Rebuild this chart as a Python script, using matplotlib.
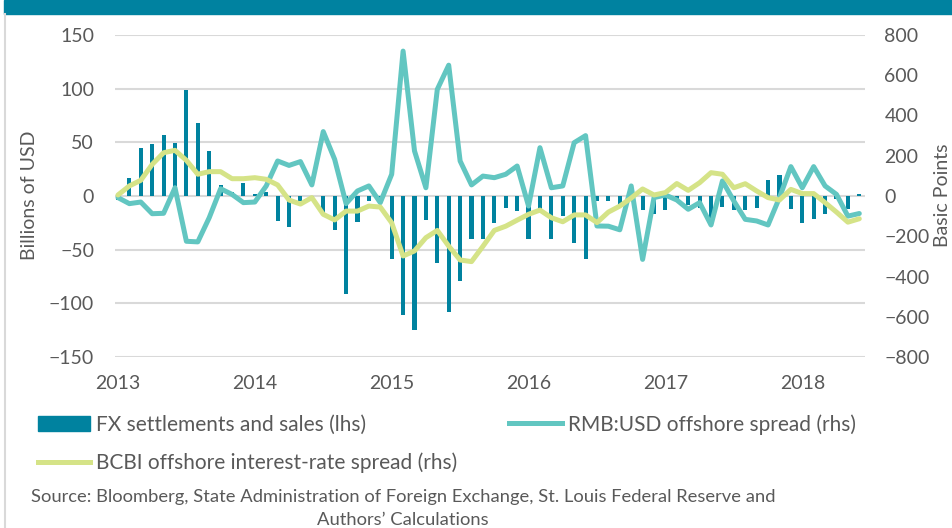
import matplotlib
matplotlib.use("Agg")
import matplotlib.pyplot as plt
from matplotlib.patches import Rectangle, Patch
from matplotlib.lines import Line2D
import numpy as np

plt.rcParams['font.family'] = ['Lato', 'DejaVu Sans']

# monthly data, Jan 2013 .. Jun 2018
years = ['2013', '2014', '2015', '2016', '2017', '2018']

fx_sales = [-4, 17, 45, 48, 57, 49, 99, 68, 42, 10, 4, 12,
            2, 4, -23, -29, -5, -2, -16, -32, -91, -24, -5, -3,
            -59, -111, -125, -22, -62, -108, -79, -40, -40, -25, -11, -14,
            -40, -12, -40, -19, -44, -59, -5, -5, -8, -5, -13, -17,
            -13, -5, -8, -11, -21, -10, -13, -13, -11, 15, 20, -12,
            -25, -21, -17, -3, -12, 2]

rmb_spread = [-8, -38, -30, -88, -86, 41, -225, -228, -108, 36, 8, -33,
              -30, 50, 174, 152, 171, 55, 320, 182, -38, 25, 50, -33,
              108, 720, 224, 41, 530, 650, 174, 55, 99, 91, 108, 149,
              -50, 240, 41, 50, 265, 300, -149, -150, -168, 50, -315, -8,
              5, -20, -66, -33, -144, 75, -25, -116, -124, -144, -8, 146,
              41, 146, 50, 8, -100, -87]

bcbi_spread = [5, 50, 78, 157, 215, 227, 177, 108, 121, 121, 86, 86,
               91, 83, 55, -20, -40, -8, -91, -119, -75, -75, -50, -55,
               -133, -298, -273, -207, -171, -249, -318, -326, -250, -171, -150, -120,
               -91, -70, -108, -128, -94, -94, -132, -80, -50, -10, 35, 5,
               17, 62, 28, 66, 116, 108, 41, 61, 25, -8, -20, 33,
               12, 12, -33, -80, -130, -113]

BAR = '#00829F'
TEAL = '#62C6C1'
LIME = '#D5E387'
GREY = '#595959'
GRID = '#D9D9D9'

fig = plt.figure(figsize=(9.53, 5.28), dpi=100)

# top band and left border
fig.patches.append(Rectangle((4 / 953, 1 - 14 / 528), 1, 14 / 528,
                             transform=fig.transFigure, color='#0082A0', zorder=0))
fig.lines.append(Line2D([5.5 / 953, 5.5 / 953], [0, 1 - 14 / 528],
                        transform=fig.transFigure, color=GRID, lw=1.5))

ax = fig.add_axes([115 / 953, 1 - 357 / 528, 750 / 953, 322 / 528])
x = np.arange(len(fx_sales))
ax.bar(x, fx_sales, width=0.36, color=BAR, zorder=2)
ax.set_ylim(-150, 150)
ax.set_yticks([-150, -100, -50, 0, 50, 100, 150])
ax.set_xlim(-0.26, 65.5)
ax.set_xticks(np.arange(0, 72, 12))
ax.set_xticklabels(years)
ax.yaxis.grid(True, color=GRID, lw=1.5)
ax.set_axisbelow(True)

ax2 = ax.twinx()
ax2.plot(x, rmb_spread, color=TEAL, lw=3.6, solid_joinstyle='round', solid_capstyle='round')
ax2.plot(x, bcbi_spread, color=LIME, lw=3.6, solid_joinstyle='round', solid_capstyle='round')
ax2.set_ylim(-800, 800)
ax2.set_yticks(np.arange(-800, 801, 200))

for a in (ax, ax2):
    for s in a.spines.values():
        s.set_visible(False)
    a.tick_params(length=0, labelsize=14, labelcolor=GREY)
ax.tick_params(axis='y', pad=15)
ax.tick_params(axis='x', pad=13)
ax2.tick_params(axis='y', pad=14)

fig.text(30 / 953, 1 - 195 / 528, 'Billions of USD', rotation=90, ha='center', va='center',
         fontsize=14, color=GREY)
fig.text(934 / 953, 1 - 195 / 528, 'Basic Points', rotation=90, ha='left', va='center',
         fontsize=14, color=GREY)

handles = [Patch(color=BAR), Line2D([], [], color=LIME, lw=3.6),
           Line2D([], [], color=TEAL, lw=3.6)]
labels = ['FX settlements and sales (lhs)', 'BCBI offshore interest-rate spread (rhs)',
          'RMB:USD offshore spread (rhs)']
fig.legend(handles, labels, loc='upper left', bbox_to_anchor=(38 / 953, 1 - 414 / 528),
           ncol=2, frameon=False, fontsize=15, labelcolor=GREY, handlelength=2.5,
           handletextpad=0.29, columnspacing=2.5, labelspacing=0.85, borderpad=0,
           borderaxespad=0)

fig.text(403 / 953, 1 - 497 / 528,
         'Source: Bloomberg, State Administration of Foreign Exchange, St. Louis Federal Reserve and',
         ha='center', va='center', fontsize=13.2, color=GREY)
fig.text(403 / 953, 1 - 520 / 528, 'Authors\u2019 Calculations',
         ha='center', va='center', fontsize=13.2, color=GREY)

fig.savefig('out.png', dpi=100)
